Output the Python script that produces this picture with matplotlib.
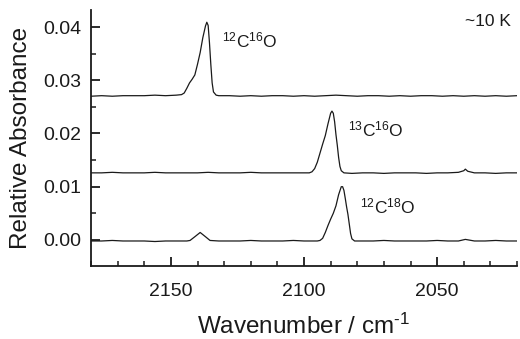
import matplotlib
matplotlib.use("Agg")
import matplotlib.pyplot as plt
from matplotlib.ticker import MultipleLocator

plt.rcParams['font.family'] = ['Liberation Sans', 'DejaVu Sans']
plt.rcParams['mathtext.fontset'] = 'custom'
plt.rcParams['mathtext.rm'] = 'Liberation Sans'
plt.rcParams['mathtext.it'] = 'Liberation Sans'
plt.rcParams['mathtext.bf'] = 'Liberation Sans'

# ---- data (wavenumber cm^-1, relative absorbance) ----
wn_12c16o = [2180, 2176, 2172, 2168, 2164, 2160, 2156, 2152, 2148, 2146, 2145, 2144, 2143,
             2142, 2141, 2140, 2139, 2138, 2137, 2136.5, 2136, 2135.5, 2135, 2134.5, 2134,
             2133, 2132, 2128, 2124, 2120, 2116, 2112, 2108, 2104, 2100, 2096, 2092, 2088,
             2084, 2080, 2076, 2072, 2068, 2064, 2060, 2056, 2052, 2048, 2044, 2040, 2036,
             2032, 2028, 2024, 2020]
ab_12c16o = [0.0270, 0.0271, 0.0270, 0.0271, 0.0271, 0.0271, 0.0272, 0.0271, 0.0272, 0.0273,
             0.0276, 0.0285, 0.0295, 0.0302, 0.0310, 0.0330, 0.0352, 0.0380, 0.0402, 0.0409,
             0.0403, 0.0370, 0.0330, 0.0295, 0.0278, 0.0272, 0.0271, 0.0271, 0.0270, 0.0271,
             0.0270, 0.0271, 0.0271, 0.0270, 0.0271, 0.0270, 0.0271, 0.0272, 0.0271, 0.0270,
             0.0271, 0.0271, 0.0270, 0.0271, 0.0270, 0.0271, 0.0271, 0.0270, 0.0271, 0.0270,
             0.0271, 0.0270, 0.0271, 0.0270, 0.0271]

wn_13c16o = [2180, 2176, 2172, 2168, 2164, 2160, 2156, 2152, 2148, 2144, 2140, 2136, 2132,
             2128, 2124, 2120, 2116, 2112, 2108, 2104, 2100, 2098, 2097, 2096, 2095, 2094,
             2093, 2092, 2091, 2090, 2089.5, 2089, 2088.5, 2088, 2087.5, 2087, 2086.5, 2086,
             2085, 2082, 2078, 2074, 2070, 2066, 2062, 2058, 2054, 2050, 2046, 2042, 2040,
             2039.4, 2038.5, 2036, 2032, 2028, 2024, 2020]
ab_13c16o = [0.0126, 0.0126, 0.0127, 0.0126, 0.0126, 0.0126, 0.0127, 0.0126, 0.0126, 0.0126,
             0.0126, 0.0127, 0.0126, 0.0126, 0.0126, 0.0127, 0.0126, 0.0126, 0.0126, 0.0126,
             0.0126, 0.0126, 0.0128, 0.0134, 0.0146, 0.0163, 0.0180, 0.0196, 0.0218, 0.0238,
             0.0242, 0.0238, 0.0222, 0.0198, 0.0178, 0.0155, 0.0138, 0.0130, 0.0126, 0.0125,
             0.0126, 0.0126, 0.0125, 0.0126, 0.0126, 0.0126, 0.0125, 0.0126, 0.0126, 0.0127,
             0.0130, 0.0133, 0.0129, 0.0126, 0.0126, 0.0125, 0.0126, 0.0126]

wn_12c18o = [2180, 2176, 2172, 2168, 2164, 2160, 2156, 2152, 2148, 2144, 2142.8, 2141, 2139,
             2137, 2135.3, 2132, 2128, 2124, 2120, 2116, 2112, 2108, 2104, 2100, 2096, 2095,
             2094, 2093, 2092, 2091, 2090, 2089, 2088, 2087, 2086, 2085.5, 2085, 2084.5, 2084,
             2083.5, 2083, 2082.5, 2082, 2081, 2078, 2074, 2070, 2066, 2062, 2058, 2054, 2050,
             2046, 2042, 2039.4, 2036, 2032, 2028, 2024, 2020]
ab_12c18o = [-0.0002, -0.0002, -0.0001, -0.0002, -0.0002, -0.0002, -0.0003, -0.0002, -0.0002,
             -0.0002, -0.0001, 0.0006, 0.0014, 0.0006, -0.0001, -0.0002, -0.0002, -0.0002,
             -0.0001, -0.0002, -0.0002, -0.0002, -0.0001, -0.0002, -0.0002, -0.0002, -0.0001,
             0.0003, 0.0014, 0.0027, 0.0039, 0.0050, 0.0064, 0.0085, 0.0100, 0.0100, 0.0093,
             0.0078, 0.0062, 0.0048, 0.0030, 0.0012, 0.0002, -0.0002, -0.0002, -0.0002,
             -0.0001, -0.0002, -0.0002, -0.0002, -0.0002, -0.0001, -0.0002, -0.0002, 0.0001,
             -0.0002, -0.0002, -0.0001, -0.0002, -0.0002]

labels = [r'$\mathregular{^{12}C^{16}O}$', r'$\mathregular{^{13}C^{16}O}$',
          r'$\mathregular{^{12}C^{18}O}$']
label_x = [2130.8, 2083.3, 2078.9]
label_y = [0.0362, 0.0195, 0.0050]

x_ticks = [2150, 2100, 2050]
y_ticks = [0.00, 0.01, 0.02, 0.03, 0.04]

fig = plt.figure(figsize=(5.2, 3.39), dpi=100)
ax = fig.add_axes([91 / 520, 1 - 266 / 339, (517 - 91) / 520, (266 - 10) / 339])

col = '#1a1a1a'
for wn, ab in [(wn_12c16o, ab_12c16o), (wn_13c16o, ab_13c16o), (wn_12c18o, ab_12c18o)]:
    ax.plot(wn, ab, color=col, lw=0.9)

for t, x, y in zip(labels, label_x, label_y):
    ax.text(x, y, t, fontsize=12.5, ha='left', va='baseline', color=col)
ax.text(2039.4, 0.0402, '~10 K', fontsize=12.5, ha='left', va='baseline', color=col)

ax.set_xlim(2180, 2020)
ax.set_ylim(-0.0049, 0.0432)
ax.set_xticks(x_ticks)
ax.set_yticks(y_ticks)
ax.set_yticklabels([f'{v:.2f}' for v in y_ticks])
ax.xaxis.set_minor_locator(MultipleLocator(10))
ax.yaxis.set_minor_locator(MultipleLocator(0.005))

ax.spines['top'].set_visible(False)
ax.spines['right'].set_visible(False)
for s in ['left', 'bottom']:
    ax.spines[s].set_linewidth(1.3)
    ax.spines[s].set_color(col)

ax.tick_params(which='major', direction='in', length=6.5, width=1.3, labelsize=14,
               colors=col)
ax.tick_params(which='minor', direction='in', length=3.5, width=1.1, colors=col)
ax.tick_params(axis='x', which='major', pad=12)
ax.tick_params(axis='y', which='major', pad=7)

ax.set_xlabel(r'Wavenumber / cm$\mathregular{^{\text{-}1}}$', fontsize=17.5, labelpad=10,
              color=col)
ax.set_ylabel('Relative Absorbance', fontsize=17.5, labelpad=8, color=col)

fig.savefig('out.png', dpi=100)
